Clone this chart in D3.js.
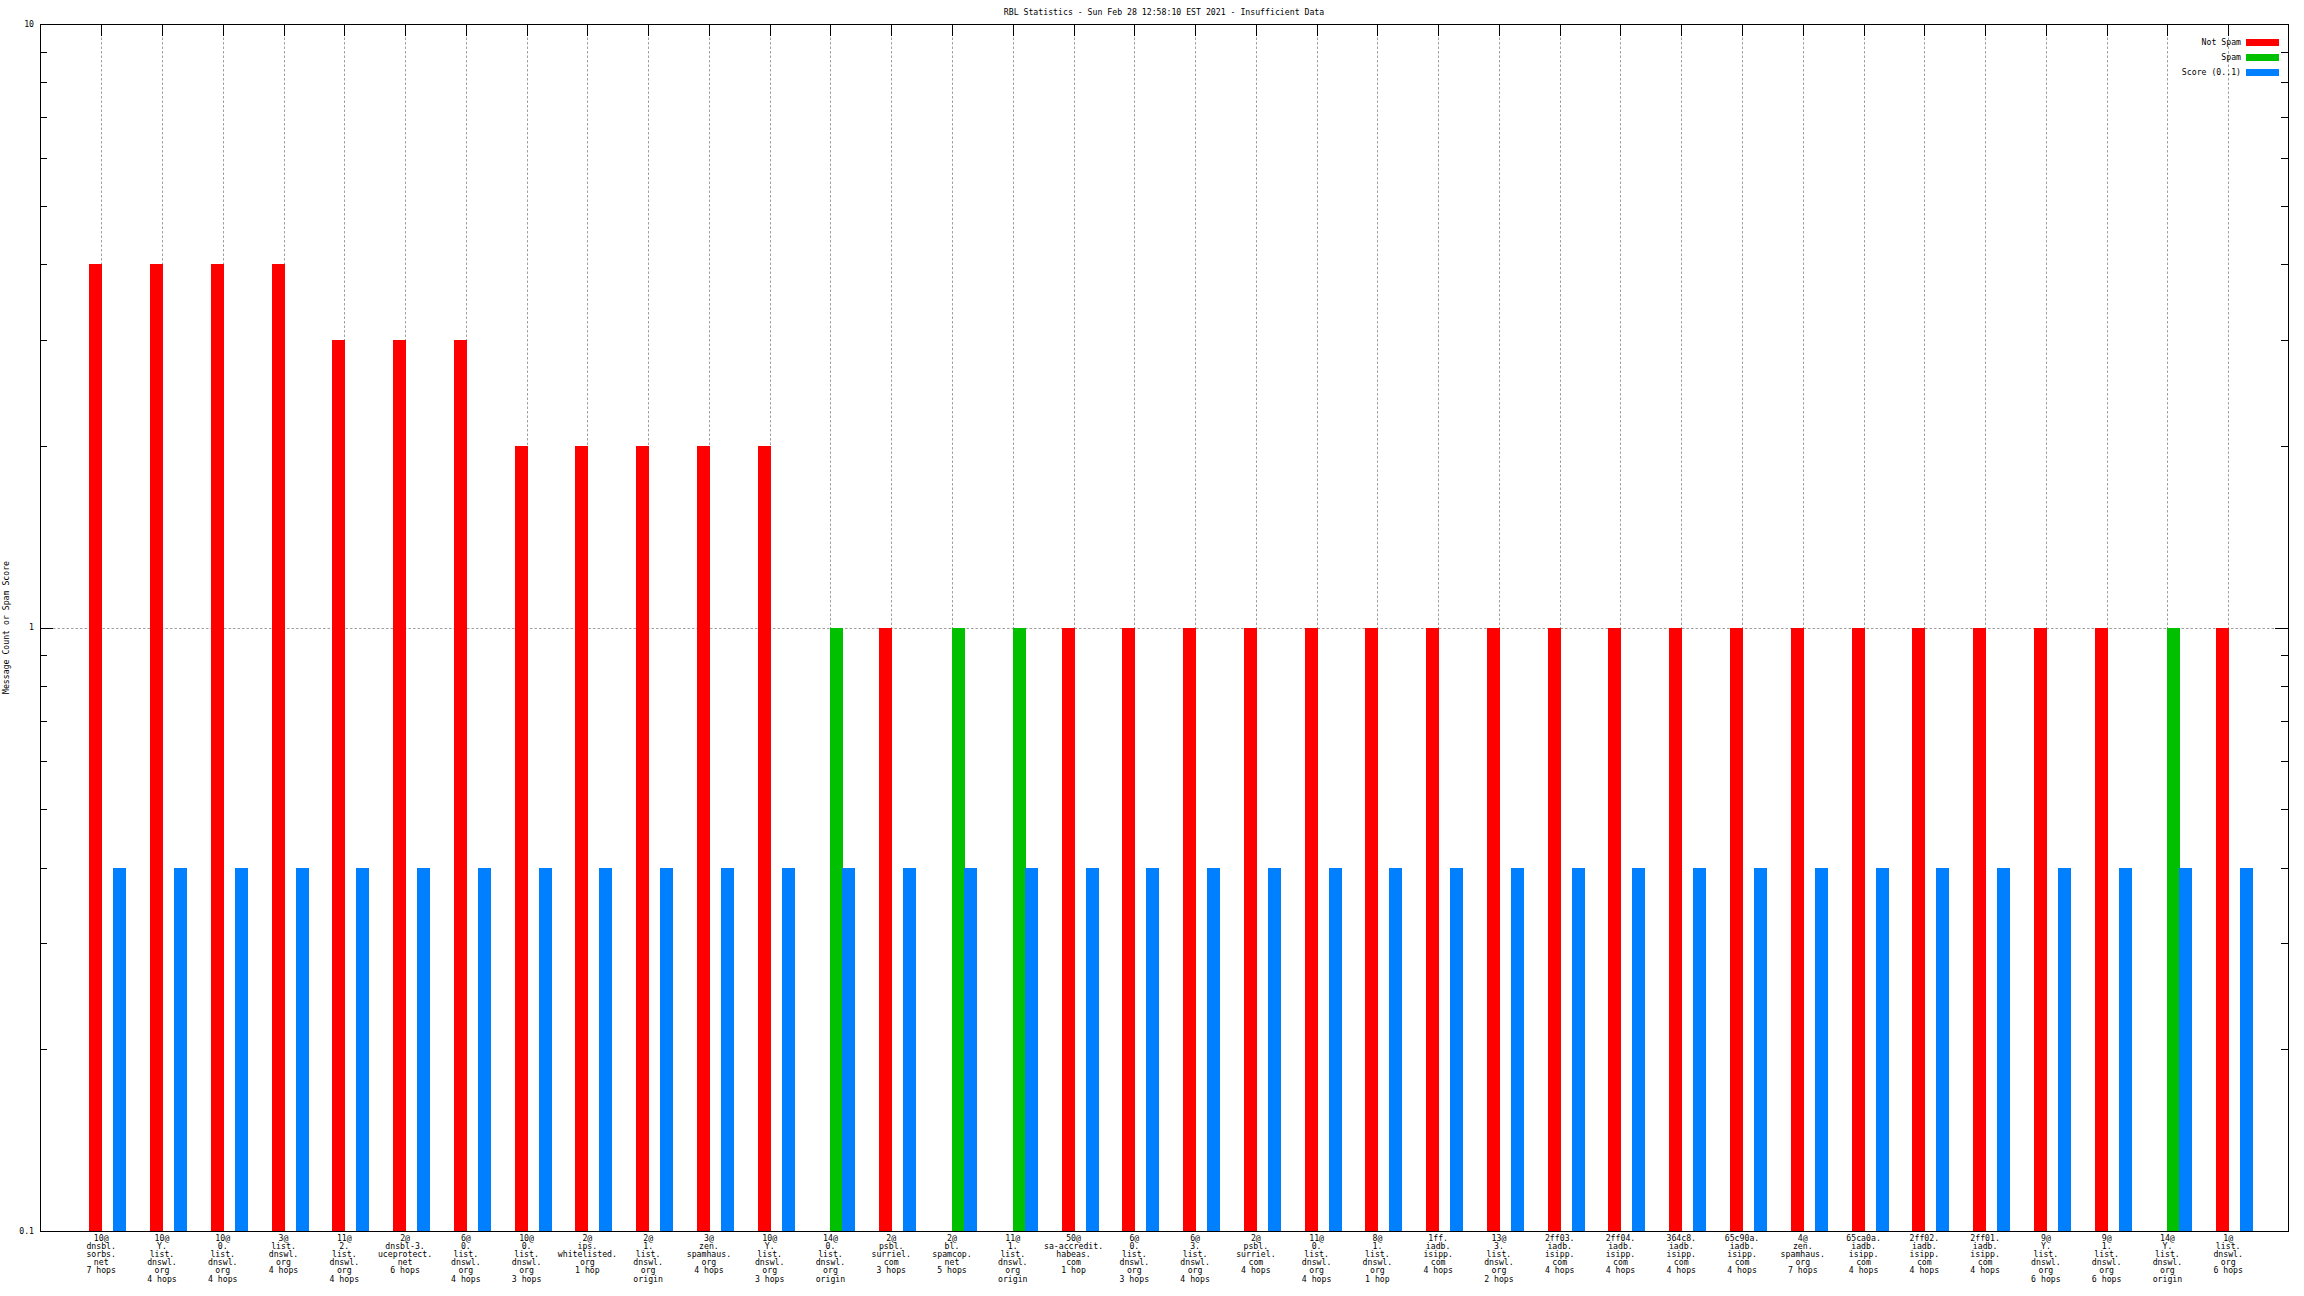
<!DOCTYPE html>
<html>
<head>
<meta charset="utf-8">
<script src="https://cdn.jsdelivr.net/npm/d3@7"></script>
<style>
  html, body { margin: 0; padding: 0; background: #fff; }
  text { font-family: "DejaVu Sans Mono", "Liberation Mono", monospace; font-size: 8.2px; fill: #000; }
</style>
</head>
<body>
<svg id="chart" width="2304" height="1296"></svg>
<script>
const title = "RBL Statistics - Sun Feb 28 12:58:10 EST 2021 - Insufficient Data";
const yLabel = "Message Count or Spam Score";
const seriesNames = ["Not Spam", "Spam", "Score (0..1)"];
const seriesColors = ["#ff0000", "#00c000", "#0080ff"];
const yTickLabels = ["0.1", "1", "10"];

const categories = [
  "10@\ndnsbl.\nsorbs.\nnet\n7 hops",
  "10@\nY.\nlist.\ndnswl.\norg\n4 hops",
  "10@\n0.\nlist.\ndnswl.\norg\n4 hops",
  "3@\nlist.\ndnswl.\norg\n4 hops",
  "11@\n2.\nlist.\ndnswl.\norg\n4 hops",
  "2@\ndnsbl-3.\nuceprotect.\nnet\n6 hops",
  "6@\n0.\nlist.\ndnswl.\norg\n4 hops",
  "10@\n0.\nlist.\ndnswl.\norg\n3 hops",
  "2@\nips.\nwhitelisted.\norg\n1 hop",
  "2@\n1.\nlist.\ndnswl.\norg\norigin",
  "3@\nzen.\nspamhaus.\norg\n4 hops",
  "10@\nY.\nlist.\ndnswl.\norg\n3 hops",
  "14@\n0.\nlist.\ndnswl.\norg\norigin",
  "2@\npsbl.\nsurriel.\ncom\n3 hops",
  "2@\nbl.\nspamcop.\nnet\n5 hops",
  "11@\n1.\nlist.\ndnswl.\norg\norigin",
  "50@\nsa-accredit.\nhabeas.\ncom\n1 hop",
  "6@\n0.\nlist.\ndnswl.\norg\n3 hops",
  "6@\n3.\nlist.\ndnswl.\norg\n4 hops",
  "2@\npsbl.\nsurriel.\ncom\n4 hops",
  "11@\n0.\nlist.\ndnswl.\norg\n4 hops",
  "8@\n1.\nlist.\ndnswl.\norg\n1 hop",
  "1ff.\niadb.\nisipp.\ncom\n4 hops",
  "13@\n3.\nlist.\ndnswl.\norg\n2 hops",
  "2ff03.\niadb.\nisipp.\ncom\n4 hops",
  "2ff04.\niadb.\nisipp.\ncom\n4 hops",
  "364c8.\niadb.\nisipp.\ncom\n4 hops",
  "65c90a.\niadb.\nisipp.\ncom\n4 hops",
  "4@\nzen.\nspamhaus.\norg\n7 hops",
  "65ca0a.\niadb.\nisipp.\ncom\n4 hops",
  "2ff02.\niadb.\nisipp.\ncom\n4 hops",
  "2ff01.\niadb.\nisipp.\ncom\n4 hops",
  "9@\nY.\nlist.\ndnswl.\norg\n6 hops",
  "9@\n1.\nlist.\ndnswl.\norg\n6 hops",
  "14@\nY.\nlist.\ndnswl.\norg\norigin",
  "1@\nlist.\ndnswl.\norg\n6 hops"
];

const notSpam = [4,4,4,4,3,3,3,2,2,2,2,2,null,1,null,null,1,1,1,1,1,1,1,1,1,1,1,1,1,1,1,1,1,1,null,1];
const spam    = [null,null,null,null,null,null,null,null,null,null,null,null,1,null,1,1,null,null,null,null,null,null,null,null,null,null,null,null,null,null,null,null,null,null,1,null];
const score   = [0.4,0.4,0.4,0.4,0.4,0.4,0.4,0.4,0.4,0.4,0.4,0.4,0.4,0.4,0.4,0.4,0.4,0.4,0.4,0.4,0.4,0.4,0.4,0.4,0.4,0.4,0.4,0.4,0.4,0.4,0.4,0.4,0.4,0.4,0.4,0.4];

const svg = d3.select("#chart");
const L = 40, R = 2288, T = 24, B = 1231;

const x = d3.scalePoint().domain(d3.range(categories.length)).range([101.2, 2228.2]);
const sub = d3.scaleBand().domain(seriesNames).range([-12.5, 24.5]);
const y = d3.scaleLog().domain([0.1, 10]).range([B, T]);

const gridColor = "#a0a0a0";
const dash = "2.5,2";
const px = i => Math.round(x(i));

// vertical grid
svg.append("g").selectAll("line").data(categories).join("line")
  .attr("x1", (d, i) => px(i) + 0.5).attr("x2", (d, i) => px(i) + 0.5)
  .attr("y1", T).attr("y2", B)
  .attr("stroke", gridColor).attr("stroke-dasharray", dash).attr("stroke-width", 1);

// horizontal grid at major interior ticks
const majors = y.ticks().filter(v => Math.abs(Math.log10(v) - Math.round(Math.log10(v))) < 1e-9);
svg.append("g").selectAll("line").data(majors.filter(v => v > 0.1 && v < 10)).join("line")
  .attr("x1", L + 13).attr("x2", R - 13)
  .attr("y1", d => Math.round(y(d)) + 0.5).attr("y2", d => Math.round(y(d)) + 0.5)
  .attr("stroke", gridColor).attr("stroke-dasharray", dash).attr("stroke-width", 1);

// x ticks (top and bottom, mirrored)
const xt = svg.append("g").attr("stroke", "#000").attr("stroke-width", 1);
categories.forEach((c, i) => {
  const xx = px(i) + 0.5;
  xt.append("line").attr("x1", xx).attr("x2", xx).attr("y1", T).attr("y2", T + 12);
  xt.append("line").attr("x1", xx).attr("x2", xx).attr("y1", B).attr("y2", B - 12);
});

// y ticks, left and right
const yt = svg.append("g").attr("stroke", "#000").attr("stroke-width", 1);
y.ticks().forEach(v => {
  const isMajor = majors.includes(v);
  const len = isMajor ? 13 : 7;
  const yy = Math.round(y(v)) + 0.5;
  yt.append("line").attr("x1", L).attr("x2", L + len).attr("y1", yy).attr("y2", yy);
  yt.append("line").attr("x1", R).attr("x2", R - len).attr("y1", yy).attr("y2", yy);
});

// bars (each box 1px wider so neighbouring boxes share the tick column)
const seriesData = [notSpam, spam, score];
seriesData.forEach((arr, s) => {
  svg.append("g").attr("fill", seriesColors[s]).attr("shape-rendering", "crispEdges")
    .selectAll("rect").data(arr.map((v, i) => ({v, i})).filter(d => d.v != null)).join("rect")
    .attr("x", d => Math.round(px(d.i) + sub(seriesNames[s])))
    .attr("width", Math.round(sub.bandwidth()) + 1)
    .attr("y", d => Math.round(y(d.v)))
    .attr("height", d => Math.round(y(0.1)) - Math.round(y(d.v)));
});

// border
svg.append("rect").attr("x", L + 0.5).attr("y", T + 0.5).attr("width", R - L).attr("height", B - T)
  .attr("fill", "none").attr("stroke", "#000").attr("stroke-width", 1).attr("shape-rendering", "crispEdges");

// y tick labels
svg.append("g").selectAll("text").data(majors).join("text")
  .attr("x", 34).attr("y", d => y(d)).attr("dy", "0.35em")
  .attr("text-anchor", "end")
  .text((d, i) => yTickLabels[i]);

// x labels
const xl = svg.append("g");
categories.forEach((c, i) => {
  const t = xl.append("text").attr("text-anchor", "middle");
  c.split("\n").forEach((line, k) => {
    t.append("tspan").attr("x", x(i)).attr("y", 1241 + k * 8.1).text(line);
  });
});

// title
svg.append("text").attr("x", (L + R) / 2).attr("y", 15).attr("text-anchor", "middle").text(title);

// y label
svg.append("text").attr("transform", `translate(9,${(T + B) / 2}) rotate(-90)`)
  .attr("text-anchor", "middle").text(yLabel);

// legend
const legY = [42.6, 57.3, 72];
const lg = svg.append("g");
seriesNames.forEach((n, i) => {
  lg.append("text").attr("x", 2241).attr("y", legY[i]).attr("dy", "0.35em").attr("text-anchor", "end").text(n);
  lg.append("rect").attr("x", 2246).attr("y", legY[i] - 3.5).attr("width", 33).attr("height", 7)
    .attr("fill", seriesColors[i]).attr("shape-rendering", "crispEdges");
});
</script>
</body>
</html>
